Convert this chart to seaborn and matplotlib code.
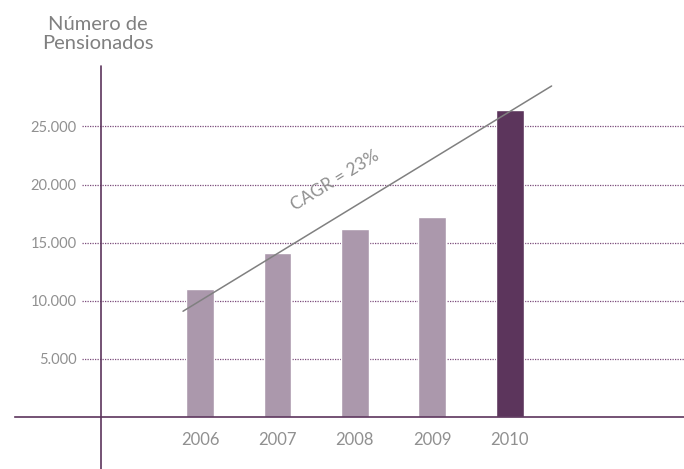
import matplotlib.pyplot as plt
import seaborn as sns
from matplotlib.lines import Line2D

# data
years = ['2006', '2007', '2008', '2009', '2010']
pensionados = [11000, 14150, 16150, 17250, 26450]
bar_colors = ['#ab98ac', '#ab98ac', '#ab98ac', '#ab98ac', '#5c355c']
yticks = [5000, 10000, 15000, 20000, 25000]
ytick_labels = ['5.000', '10.000', '15.000', '20.000', '25.000']
# CAGR trend line end points (category index, value)
trend_x = [-0.22, 4.54]
trend_y = [9100, 28480]
cagr_label = 'CAGR = 23%'

sns.set_theme(style='white')
plt.rcParams['font.family'] = ['Lato', 'DejaVu Sans']

W, H = 684, 469
fig = plt.figure(figsize=(W / 100, H / 100), dpi=100)

# axes: x from px 15 to 684, y from px 417 (0) to px 66
ax = fig.add_axes([15 / W, 1 - 417 / H, (684 - 15) / W, (417 - 66) / H])

sns.barplot(x=years, y=pensionados, hue=years, palette=bar_colors,
            width=0.36, legend=False, saturation=1, ax=ax)

ax.set_xlim(-2.39, 6.25)
ax.set_ylim(0, 30200)

for s in ['top', 'right', 'left']:
    ax.spines[s].set_visible(False)
ax.spines['bottom'].set_color('#5c355c')
ax.spines['bottom'].set_linewidth(1.2)

# dotted grid lines starting right of the tick labels
for y in yticks:
    ax.axhline(y, xmin=0.1, xmax=1, color='#7a4a7a', ls=(0, (1, 1)), lw=0.9, zorder=0)

ax.set_yticks(yticks)
ax.set_yticklabels(ytick_labels)
ax.tick_params(axis='y', length=0, pad=-44.5, labelsize=10.5, labelcolor='#909090')
ax.tick_params(axis='x', length=0, pad=11, labelsize=12, labelcolor='#909090')
ax.set_xlabel('')
ax.set_ylabel('')

# trend line + label
ax.plot(trend_x, trend_y, color='#808080', lw=1.1, zorder=3)
ax.text(1.75, 20300, cagr_label, rotation=31.5, ha='center', va='center',
        fontsize=12.5, color='#909090')

# vertical axis line (extends below the baseline)
fig.add_artist(Line2D([101 / W, 101 / W], [0, 1 - 66 / H], color='#5c355c', lw=1.2))

fig.text(98 / W, 1 - 34 / H, 'Número de\nPensionados', ha='center', va='center',
         fontsize=14.5, color='#808080', linespacing=1.15)

plt.savefig('out.png', dpi=100)
